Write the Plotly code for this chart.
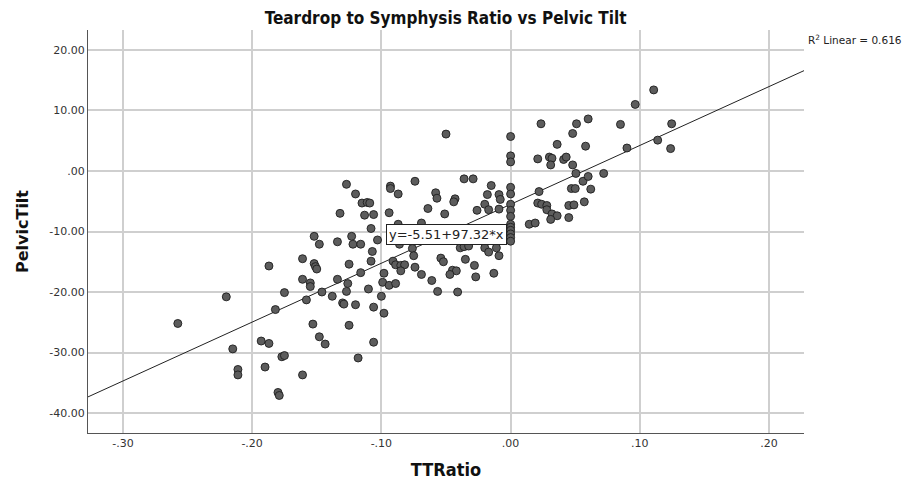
import plotly.graph_objects as go

# TTRatio (x) and PelvicTilt (y) values
tt_ratio = [
    -0.2575, -0.220, -0.187, -0.215, -0.211, -0.211, -0.193, -0.187, -0.190, -0.182,
    -0.175, -0.177, -0.175, -0.180, -0.179, -0.161, -0.161, -0.161, -0.155, -0.155,
    -0.158, -0.153, -0.148, -0.152, -0.148, -0.152, -0.151, -0.150, -0.146,
    -0.127, -0.120, -0.115, -0.111, -0.109, -0.132, -0.113, -0.106, -0.094, -0.093,
    -0.093, -0.108, -0.103, -0.134, -0.123, -0.122, -0.116, -0.107, -0.108, -0.125,
    -0.116, -0.098, -0.134, -0.126, -0.110, -0.099, -0.094, -0.127, -0.138, -0.130,
    -0.129, -0.120, -0.106, -0.100, -0.098, -0.125, -0.1435, -0.106, -0.118,
    -0.050, -0.036, -0.029, -0.074, -0.087, -0.058, -0.057, -0.043, -0.044, -0.015,
    -0.018, -0.009, -0.008, -0.020, -0.017, -0.009, -0.026, -0.064, -0.051, -0.069,
    -0.086, -0.076, -0.039, -0.036, -0.0325, -0.020, -0.011, -0.017, -0.009, -0.075,
    -0.054, -0.052, -0.035, -0.028, -0.091, -0.089, -0.085, -0.082, -0.085, -0.074,
    -0.069, -0.045, -0.042, -0.047, -0.027, -0.013, -0.061, -0.089, -0.0565, -0.041,
    -0.087,
    0.0, 0.0, 0.0, 0.0, 0.0, 0.0, 0.0, 0.0, 0.0, 0.0, 0.0, 0.0, 0.0, 0.0,
    0.0964, 0.0235, 0.051, 0.060, 0.085, 0.048, 0.036, 0.058, 0.090, 0.021,
    0.030, 0.032, 0.031, 0.041, 0.043, 0.048, 0.0505, 0.056, 0.060, 0.072,
    0.062, 0.047, 0.050, 0.022, 0.057, 0.045, 0.049, 0.021, 0.024, 0.028,
    0.028, 0.032, 0.036, 0.031, 0.045, 0.0144, 0.019,
    0.1107, 0.1246, 0.1138, 0.1238,
]
pelvic_tilt = [
    -25.2, -20.8, -15.7, -29.4, -32.8, -33.7, -28.1, -28.5, -32.4, -22.9,
    -20.1, -30.7, -30.5, -36.6, -37.1, -33.7, -14.5, -17.9, -18.5, -19.1,
    -21.3, -25.3, -27.4, -10.8, -12.1, -15.3, -15.8, -16.2, -20.0,
    -2.2, -3.8, -5.3, -5.2, -5.3, -7.0, -7.3, -7.2, -6.9, -2.5,
    -2.9, -9.5, -11.4, -11.7, -10.8, -12.1, -12.1, -13.3, -14.9, -15.4,
    -16.8, -16.9, -17.9, -18.6, -19.5, -18.4, -18.9, -19.9, -20.7, -21.8,
    -22.0, -22.1, -22.5, -20.7, -23.5, -25.5, -28.6, -28.3, -30.9,
    6.1, -1.3, -1.3, -1.7, -3.8, -3.6, -4.5, -4.6, -5.1, -2.4,
    -3.9, -3.9, -4.7, -5.5, -6.4, -6.3, -6.5, -6.2, -7.1, -8.6,
    -12.1, -12.8, -12.7, -12.5, -12.4, -12.7, -12.7, -13.4, -14.0, -14.0,
    -14.4, -15.0, -14.6, -15.6, -14.9, -15.5, -15.6, -15.5, -16.5, -15.9,
    -17.1, -16.4, -16.5, -17.1, -17.5, -16.9, -18.1, -18.6, -19.9, -20.0,
    -8.8,
    5.7, 2.5, 1.5, -2.7, -3.8, -5.5, -6.5, -7.5, -8.8, -9.3, -9.8, -10.4, -11.0, -11.6,
    11.0, 7.8, 7.8, 8.6, 7.7, 6.2, 4.4, 4.1, 3.8, 2.0,
    2.3, 2.1, 1.0, 1.9, 2.3, 1.0, -0.4, -1.7, -0.9, -0.4,
    -3.0, -2.9, -2.9, -3.4, -5.1, -5.7, -5.6, -5.3, -5.5, -5.7,
    -6.4, -7.1, -7.4, -8.0, -7.7, -8.8, -8.6,
    13.4, 7.8, 5.1, 3.7,
]

fit_intercept = -5.51
fit_slope = 97.32
r_squared = 0.616

x_range = [-0.327, 0.227]
y_range = [-43.3, 23.3]

x_ticks = [-0.30, -0.20, -0.10, 0.00, 0.10, 0.20]
x_tick_labels = ["-.30", "-.20", "-.10", ".00", ".10", ".20"]
y_ticks = [20, 10, 0, -10, -20, -30, -40]
y_tick_labels = ["20.00", "10.00", ".00", "-10.00", "-20.00", "-30.00", "-40.00"]

title_text = "Teardrop to Symphysis Ratio vs Pelvic Tilt"
x_title = "TTRatio"
y_title = "PelvicTilt"

fit_x = x_range
fit_y = [fit_intercept + fit_slope * v for v in fit_x]

fig = go.Figure()
fig.add_trace(go.Scatter(
    x=fit_x, y=fit_y, mode="lines",
    line=dict(color="#222222", width=1), hoverinfo="skip", showlegend=False,
))
fig.add_trace(go.Scatter(
    x=tt_ratio, y=pelvic_tilt, mode="markers",
    marker=dict(size=8, color="#5c5c5c", line=dict(color="#1e1e1e", width=0.9)),
    showlegend=False,
))

fig.add_annotation(
    x=-0.050, y=-10.5, xref="x", yref="y",
    text="y=-5.51+97.32*x", showarrow=False,
    font=dict(family="DejaVu Sans", size=13, color="#222222"),
    bgcolor="white", bordercolor="#222222", borderwidth=1, borderpad=2,
)
fig.add_annotation(
    x=1.139, y=1.0, xref="paper", yref="paper", xanchor="right", yanchor="top",
    yshift=-1,
    text="R<sup>2</sup> Linear = %.3f" % r_squared, showarrow=False,
    font=dict(family="DejaVu Sans", size=10.5, color="#222222"),
)

axis_font = dict(family="DejaVu Sans", size=11, color="#333333")
title_family = "Liberation Sans Narrow, DejaVu Sans Condensed, Liberation Sans"
fig.update_layout(
    width=904, height=483,
    margin=dict(l=88, r=100, t=30, b=50, autoexpand=False),
    paper_bgcolor="white", plot_bgcolor="white",
    title=dict(
        text="<b>" + title_text + "</b>", x=0.493, xanchor="center", y=0.962, yanchor="middle",
        font=dict(family=title_family, size=17, color="#111111"),
    ),
    xaxis=dict(
        range=x_range, tickvals=x_ticks, ticktext=x_tick_labels, automargin=False,
        showgrid=True, gridcolor="#cfcfcf", gridwidth=1.5, zeroline=False,
        showline=True, linecolor="#555555", linewidth=1.2, ticks="",
        tickfont=axis_font,
        title=dict(text="<b>" + x_title + "</b>", standoff=14,
                   font=dict(family=title_family, size=18, color="#111111")),
    ),
    yaxis=dict(
        range=y_range, tickvals=y_ticks, ticktext=y_tick_labels, automargin=False,
        showgrid=True, gridcolor="#cfcfcf", gridwidth=1.5, zeroline=False,
        showline=True, linecolor="#555555", linewidth=1.2, ticks="",
        tickfont=axis_font,
        title=dict(text="<b>" + y_title + "</b>", standoff=16,
                   font=dict(family="DejaVu Sans", size=16, color="#111111")),
    ),
)

fig.write_html(
    "out.html",
    config={"displayModeBar": False},
    post_script="document.body.style.margin='0';document.body.style.overflow='hidden';",
)
